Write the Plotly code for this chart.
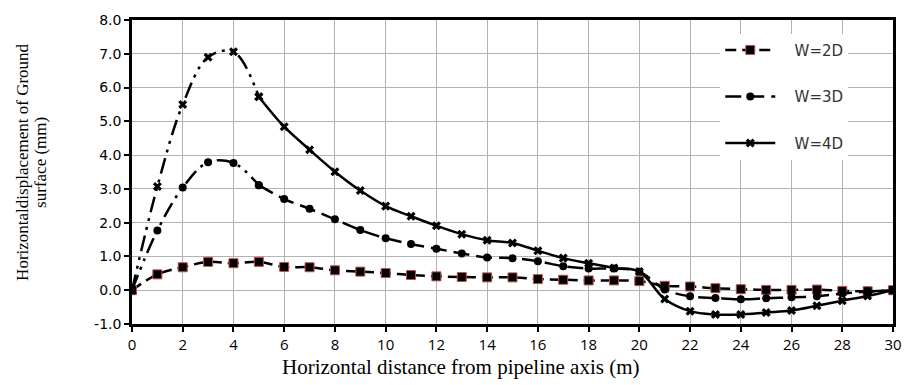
import plotly.graph_objects as go

x_vals = list(range(0, 31))

w2d = [0.00, 0.47, 0.68, 0.84, 0.80, 0.84, 0.69, 0.68, 0.59, 0.55, 0.51,
       0.45, 0.41, 0.39, 0.38, 0.38, 0.33, 0.31, 0.29, 0.29, 0.27,
       0.13, 0.11, 0.06, 0.03, 0.01, 0.01, 0.02, -0.02, -0.03, 0.00]

w3d = [0.00, 1.77, 3.04, 3.79, 3.77, 3.11, 2.70, 2.41, 2.10, 1.78, 1.54,
       1.37, 1.23, 1.09, 0.97, 0.95, 0.86, 0.71, 0.64, 0.64, 0.55,
       0.02, -0.18, -0.23, -0.27, -0.24, -0.21, -0.18, -0.10, -0.04, 0.00]

w4d = [0.00, 3.07, 5.50, 6.90, 7.06, 5.73, 4.84, 4.16, 3.51, 2.95, 2.49,
       2.19, 1.91, 1.66, 1.48, 1.40, 1.17, 0.95, 0.80, 0.66, 0.55,
       -0.26, -0.62, -0.72, -0.72, -0.66, -0.60, -0.46, -0.31, -0.17, 0.00]

names = ["W=2D", "W=3D", "W=4D"]
y_ticks = [-1, 0, 1, 2, 3, 4, 5, 6, 7, 8]
y_ticktext = ["%.1f" % v for v in y_ticks]
x_ticks = list(range(0, 31, 2))

SPLIT = 5
ddd = "16px,6px,3px,6px,3px,6px"
pad = "\u00a0\u00a0\u00a0"

fig = go.Figure()

sq_marker = dict(symbol="square", size=9, color="black",
                 line=dict(color="#c0504d", width=1))
ci_marker = dict(symbol="circle", size=8, color="black")
x_marker = dict(symbol="x", size=8, color="black", line=dict(width=0))

# W=2D
fig.add_trace(go.Scatter(x=x_vals, y=w2d, name=pad + names[0], mode="lines+markers",
                         line=dict(color="black", width=2.5, dash="11px,6px", shape="spline"),
                         marker=sq_marker, legendgroup="a"))
# W=3D early segment
fig.add_trace(go.Scatter(x=x_vals[:SPLIT + 1], y=w3d[:SPLIT + 1], mode="lines+markers",
                         line=dict(color="black", width=2.5, dash=ddd, shape="spline"),
                         marker=ci_marker, showlegend=False, legendgroup="b"))
fig.add_trace(go.Scatter(x=x_vals[SPLIT:], y=w3d[SPLIT:], name=pad + names[1], mode="lines+markers",
                         line=dict(color="black", width=2.5, dash="16px,7px", shape="spline"),
                         marker=ci_marker, legendgroup="b"))
# W=4D early segment
fig.add_trace(go.Scatter(x=x_vals[:SPLIT + 1], y=w4d[:SPLIT + 1], mode="lines+markers",
                         line=dict(color="black", width=2.5, dash=ddd, shape="spline"),
                         marker=x_marker, showlegend=False, legendgroup="c"))
fig.add_trace(go.Scatter(x=x_vals[SPLIT:], y=w4d[SPLIT:], name=pad + names[2], mode="lines+markers",
                         line=dict(color="black", width=2.5, shape="spline"),
                         marker=x_marker, legendgroup="c"))

fig.update_xaxes(range=[0, 30], tickvals=x_ticks, showgrid=True, gridcolor="#b3b3b3",
                 gridwidth=1, showline=True, linecolor="black", linewidth=2.5, mirror=True,
                 ticks="outside", ticklen=5, tickwidth=2, tickcolor="black", zeroline=False,
                 tickfont=dict(family="Open Sans", size=15, color="black"))
fig.update_yaxes(range=[-1, 8], tickvals=y_ticks, ticktext=y_ticktext, showgrid=True,
                 gridcolor="#b3b3b3", gridwidth=1, showline=True, linecolor="black",
                 linewidth=2.5, mirror=True, ticks="outside", ticklen=5, tickwidth=2,
                 tickcolor="black", zeroline=False,
                 tickfont=dict(family="DejaVu Sans", size=14, color="black"))

fig.add_annotation(text="Horizontal distance from pipeline axis (m)", xref="paper", yref="paper",
                   x=0.432, y=-0.142, xanchor="center", yanchor="middle", showarrow=False,
                   font=dict(family="Liberation Serif", size=21, color="black"))
fig.add_annotation(text="Horizontaldisplacement of Ground", xref="paper", yref="paper",
                   x=0, xshift=-109, y=0.53, xanchor="center", yanchor="middle",
                   textangle=-90, showarrow=False,
                   font=dict(family="Liberation Serif", size=17, color="black"))
fig.add_annotation(text="surface (mm)", xref="paper", yref="paper",
                   x=0, xshift=-91, y=0.53, xanchor="center", yanchor="middle",
                   textangle=-90, showarrow=False,
                   font=dict(family="Liberation Serif", size=17, color="black"))

fig.update_layout(
    width=914, height=385,
    margin=dict(l=132, r=12, t=15, b=61),
    plot_bgcolor="white", paper_bgcolor="white",
    showlegend=True,
    legend=dict(x=0.773, y=0.955, xanchor="left", yanchor="top", bgcolor="white",
                font=dict(family="DejaVu Sans", size=15, color="#333333"),
                tracegroupgap=24, itemwidth=50),
)

fig.write_html("out.html", config={"displayModeBar": False},
               post_script="document.body.style.margin='0';document.body.style.overflow='hidden';")
